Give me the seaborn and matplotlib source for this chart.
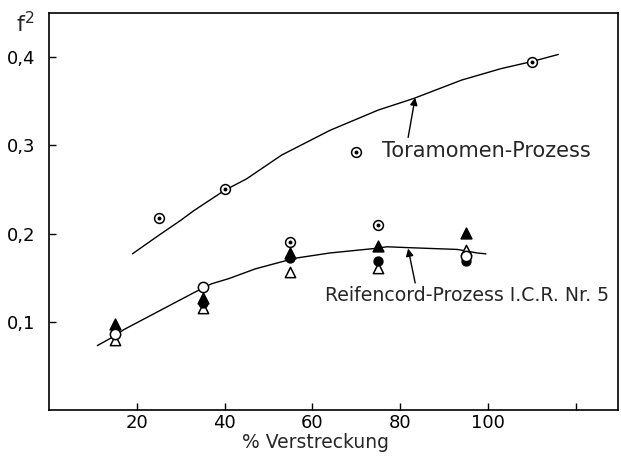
import matplotlib
matplotlib.use("Agg")
import matplotlib.pyplot as plt
import seaborn as sns

# --- measured data -------------------------------------------------------
# Toramomen process (circle with centre dot)
tora_x = [25, 40, 55, 75, 110]
tora_y = [0.218, 0.251, 0.190, 0.210, 0.395]

# Tyre-cord process I.C.R. Nr. 5, several sample types
open_circle_x = [15, 35, 95]
open_circle_y = [0.086, 0.139, 0.175]
filled_tri_x = [15, 35, 55, 75, 95]
filled_tri_y = [0.098, 0.127, 0.178, 0.186, 0.201]
filled_circle_x = [35, 55, 75, 95]
filled_circle_y = [0.121, 0.172, 0.169, 0.169]
open_tri_x = [15, 35, 55, 75, 95]
open_tri_y = [0.079, 0.116, 0.156, 0.161, 0.181]

# hand-drawn trend curves
tora_curve_x = [19, 25, 30, 33, 40, 45, 53, 64, 75, 83, 94, 103, 110, 116]
tora_curve_y = [0.177, 0.198, 0.215, 0.226, 0.249, 0.262, 0.289, 0.317,
                0.340, 0.353, 0.374, 0.387, 0.395, 0.403]
cord_curve_x = [11, 15, 17, 25, 33, 37, 41, 47, 56, 64, 74, 77, 82, 93, 97.5, 99.5]
cord_curve_y = [0.073, 0.084, 0.091, 0.112, 0.133, 0.143, 0.149, 0.160,
                0.172, 0.178, 0.183, 0.185, 0.184, 0.182, 0.178, 0.177]

x_ticks = [20, 40, 60, 80, 100, 120]
x_tick_labels = ["20", "40", "60", "80", "100", ""]
y_ticks = [0.1, 0.2, 0.3, 0.4]
y_tick_labels = ["0,1", "0,2", "0,3", "0,4"]

# --- figure --------------------------------------------------------------
sns.set_style("ticks")
plt.rcParams["font.family"] = ["DejaVu Sans"]

fig = plt.figure(figsize=(6.21, 4.57), dpi=100)
ax = fig.add_axes([49 / 621, 1 - 410 / 457, 569 / 621, 397 / 457])

sns.lineplot(x=tora_curve_x, y=tora_curve_y, sort=False, estimator=None,
             color="black", lw=1.0, ax=ax, zorder=2)
sns.lineplot(x=cord_curve_x, y=cord_curve_y, sort=False, estimator=None,
             color="black", lw=1.0, ax=ax, zorder=2)

common = dict(ax=ax, edgecolor="black", linewidth=1.1, legend=False)
sns.scatterplot(x=open_tri_x, y=open_tri_y, marker="^", s=55,
                facecolor="white", zorder=3, **common)
sns.scatterplot(x=filled_circle_x, y=filled_circle_y, marker="o", s=40,
                facecolor="black", zorder=4, **common)
sns.scatterplot(x=filled_tri_x, y=filled_tri_y, marker="^", s=60,
                facecolor="black", zorder=4, **common)
sns.scatterplot(x=open_circle_x, y=open_circle_y, marker="o", s=55,
                facecolor="white", zorder=5, **common)

# circle with centre dot, also used as key next to the label
key_x = [70]
key_y = [0.292]
for xs, ys in ((tora_x, tora_y), (key_x, key_y)):
    sns.scatterplot(x=xs, y=ys, marker="o", s=50, facecolor="white",
                    zorder=6, **common)
    sns.scatterplot(x=xs, y=ys, marker="o", s=3, facecolor="black",
                    zorder=7, **common)

# labels with arrows
ax.text(75.9, 0.294, "Toramomen-Prozess", fontsize=15, va="center", ha="left")
ax.annotate("", xy=(83.4, 0.354), xytext=(81.8, 0.309),
            arrowprops=dict(arrowstyle="-|>", color="black", lw=1.0,
                            mutation_scale=11, shrinkA=0, shrinkB=0))
ax.text(62.9, 0.130, "Reifencord-Prozess I.C.R. Nr. 5", fontsize=13.6,
        va="center", ha="left")
ax.annotate("", xy=(81.8, 0.183), xytext=(83.4, 0.144),
            arrowprops=dict(arrowstyle="-|>", color="black", lw=1.0,
                            mutation_scale=11, shrinkA=0, shrinkB=0))

# axes
ax.set_xlim(0, 129.6)
ax.set_ylim(0, 0.45)
ax.set_xticks(x_ticks)
ax.set_xticklabels(x_tick_labels)
ax.set_yticks(y_ticks)
ax.set_yticklabels(y_tick_labels)
ax.tick_params(direction="in", length=5, width=1.0, labelsize=13,
               colors="black")
ax.tick_params(axis="y", pad=10)
ax.tick_params(axis="x", pad=3)
for sp in ax.spines.values():
    sp.set_visible(True)
    sp.set_linewidth(1.2)
    sp.set_color("black")

ax.set_xlabel("% Verstreckung", fontsize=13.5)
ax.xaxis.set_label_coords(0.469, -0.058)
ax.set_ylabel("")
fig.text(16 / 621, 1 - 24 / 457, r"$\mathregular{f^{2}}$", fontsize=16,
         va="center", ha="left")

fig.savefig("out.png", dpi=100)
